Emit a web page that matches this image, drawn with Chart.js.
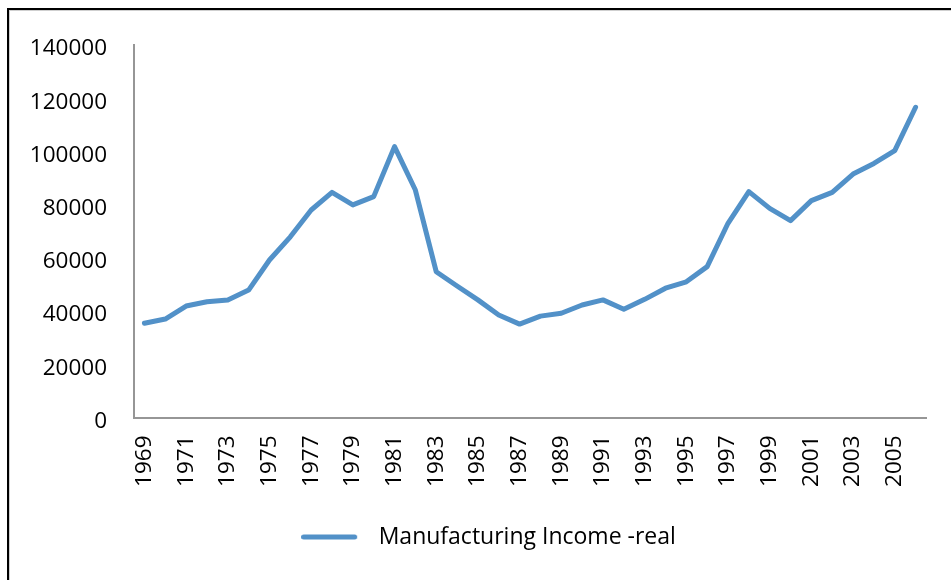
<!DOCTYPE html>
<html><head><meta charset="utf-8">
<script src="https://cdn.jsdelivr.net/npm/chart.js@4/dist/chart.umd.min.js"></script>
<style>
html,body{margin:0;padding:0;background:#fff;overflow:hidden;}
#wrap{position:relative;width:951px;height:580px;overflow:hidden;}
#frame{position:absolute;left:7px;top:8px;width:1000px;height:1000px;border-left:2px solid #000;border-top:2px solid #000;box-shadow:inset 1px 1px 0 #cfcfcf;}
canvas{position:absolute;left:0;top:0;}
</style></head><body>
<div id="wrap"><div id="frame"></div><canvas id="c" width="951" height="580"></canvas></div>
<script>
const years = ['1969','1970','1971','1972','1973','1974','1975','1976','1977','1978','1979','1980','1981','1982','1983','1984','1985','1986','1987','1988','1989','1990','1991','1992','1993','1994','1995','1996','1997','1998','1999','2000','2001','2002','2003','2004','2005','2006'];
const income = [35400,37000,41900,43500,44200,47900,59200,67900,78000,84600,79900,83000,101800,85500,54800,49400,44200,38500,35100,38100,39200,42300,44200,40700,44400,48600,51000,56700,73000,84900,78600,74000,81500,84600,91500,95500,100300,116600];
const seriesName = 'Manufacturing Income -real';
const yMin = 0, yMax = 140000, yStep = 20000;

const lineColor = '#5291c8';
const FONT = '"Open Sans"';

// legend line sample
const sample = document.createElement('canvas');
sample.width = 66; sample.height = 8;
(function(){
  const g = sample.getContext('2d');
  g.strokeStyle = lineColor; g.lineWidth = 5; g.lineCap = 'round';
  g.beginPath(); g.moveTo(2.5, 4); g.lineTo(53.5, 4); g.stroke();
})();

new Chart(document.getElementById('c'), {
  type: 'line',
  data: {
    labels: years,
    datasets: [{
      label: seriesName,
      data: income,
      borderColor: lineColor,
      backgroundColor: lineColor,
      borderWidth: 5,
      tension: 0,
      pointRadius: 0,
      borderJoinStyle: 'round',
      borderCapStyle: 'round',
      fill: false
    }]
  },
  options: {
    responsive: false,
    animation: false,
    events: [],
    layout: { padding: { left: 26, right: 0, top: 45, bottom: 21.5 } },
    plugins: {
      tooltip: { enabled: false },
      legend: {
        position: 'bottom',
        labels: {
          usePointStyle: true,
          pointStyle: sample,
          pointStyleWidth: 66,
          padding: 10,
          color: '#000',
          font: { family: FONT, size: 23 }
        }
      }
    },
    scales: {
      x: {
        offset: true,
        grid: { display: false, drawTicks: false, offset: true },
        border: { display: true, color: '#969696', width: 2 },
        ticks: {
          autoSkip: false, minRotation: 90, maxRotation: 90, padding: 18,
          color: '#000', font: { family: FONT, size: 22.5 },
          callback: function(v, i) { return i % 2 === 0 ? this.getLabelForValue(v) : ''; }
        },
        afterFit: s => { s.height = 98; s.paddingLeft = 0; s.paddingRight = 0; }
      },
      y: {
        min: yMin, max: yMax,
        grid: { display: false, drawTicks: false },
        border: { display: true, color: '#969696', width: 2 },
        ticks: { stepSize: yStep, padding: 27, labelOffset: 4, color: '#000', font: { family: FONT, size: 22.5 },
          callback: v => String(v) },
        afterFit: s => { s.width = 108; }
      },
      yR: {
        position: 'right', display: true,
        grid: { display: false, drawTicks: false },
        border: { display: false },
        ticks: { display: false },
        afterFit: s => { s.width = 25; }
      }
    }
  }
});
</script>
</body></html>
